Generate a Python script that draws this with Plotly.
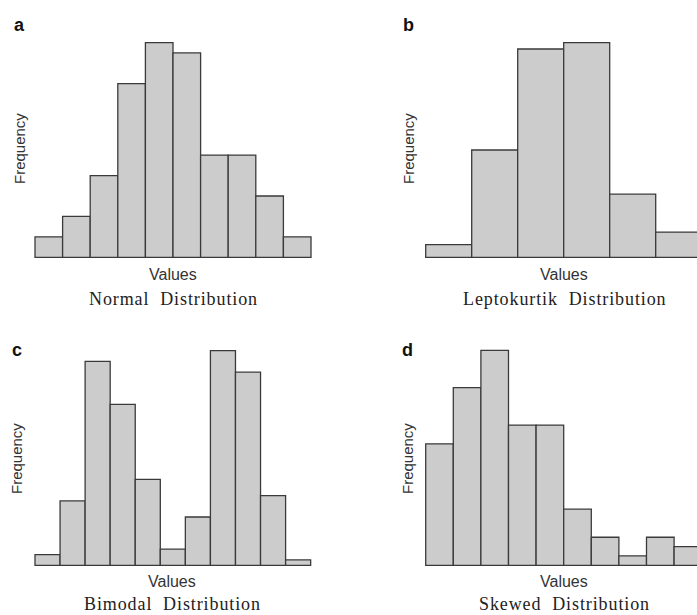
import plotly.graph_objects as go

# ---- data (bin counts) ----
normal_counts = [2, 4, 8, 17, 21, 20, 10, 10, 6, 2]
lepto_counts = [2, 17, 33, 34, 10, 4]
bimodal_counts = [2, 12, 38, 30, 16, 3, 9, 40, 36, 13, 1]
skewed_counts = [13, 19, 23, 15, 15, 6, 3, 1, 3, 2]

panel_letters = ["a", "b", "c", "d"]
panel_titles = ["Normal Distribution", "Leptokurtik Distribution",
                "Bimodal Distribution", "Skewed Distribution"]
x_label = "Values"
y_label = "Frequency"

W, H = 697, 615
FILL = "#cccccc"
EDGE = "#3a3a3a"

# layout geometry (pixels): left edge of first bar, bar width, baseline, top of tallest bar
geom = [
    dict(L=35.0, bw=27.6, base=257.3, top=42.7),
    dict(L=425.7, bw=46.0, base=257.3, top=42.7),
    dict(L=35.0, bw=25.06, base=565.3, top=350.7),
    dict(L=425.7, bw=27.6, base=565.3, top=350.3),
]
text_pos = [
    dict(cx=173, vy=274, ty=299, fx=19, fy=149, lx=19.5, ly=25),
    dict(cx=564, vy=274, ty=299, fx=408, fy=149, lx=408.5, ly=25),
    dict(cx=172, vy=581, ty=604, fx=16, fy=459, lx=17, ly=350),
    dict(cx=564, vy=581, ty=604, fx=407, fy=459, lx=407, ly=350),
]

series = [normal_counts, lepto_counts, bimodal_counts, skewed_counts]

fig = go.Figure()
layout_axes = {}
annotations = []
PAD = 9

def fx(p):
    return p / W

def fy(p):
    return 1 - p / H

for i, (counts, g, tp) in enumerate(zip(series, geom, text_pos)):
    n = len(counts)
    idx = "" if i == 0 else str(i + 1)
    xs = list(range(n))
    fig.add_trace(go.Bar(
        x=xs, y=counts, width=1.0,
        marker=dict(color=FILL, line=dict(color=EDGE, width=1.3)),
        xaxis="x" + idx, yaxis="y" + idx, showlegend=False,
        hoverinfo="skip",
    ))
    L, bw = g["L"], g["bw"]
    dl = L - PAD
    dr = min(L + n * bw + PAD, W)
    xr = [-0.5 - PAD / bw, -0.5 + (dr - L) / bw]
    M = max(counts)
    s = (g["base"] - g["top"]) / M
    db = g["base"] + PAD
    dt = g["top"] - PAD
    yr = [-PAD / s, M + PAD / s]
    layout_axes["xaxis" + idx] = dict(domain=[fx(dl), fx(dr)], range=xr, visible=False,
                                      anchor="y" + idx, fixedrange=True)
    layout_axes["yaxis" + idx] = dict(domain=[fy(db), fy(dt)], range=yr, visible=False,
                                      anchor="x" + idx, fixedrange=True)
    annotations.append(dict(x=fx(tp["cx"]), y=fy(tp["vy"]), xref="paper", yref="paper",
                            text=x_label, showarrow=False, xanchor="center", yanchor="middle",
                            font=dict(family="Liberation Sans, Arial", size=16, color="#333333")))
    annotations.append(dict(x=fx(tp["cx"]), y=fy(tp["ty"]), xref="paper", yref="paper",
                            text='<span style="letter-spacing:0.9px">' + panel_titles[i].replace(" ", "  ") + "</span>",
                            showarrow=False, xanchor="center", yanchor="middle",
                            font=dict(family="Liberation Serif, Times New Roman", size=18, color="#222222")))
    annotations.append(dict(x=fx(tp["fx"]), y=fy(tp["fy"]), xref="paper", yref="paper",
                            text=y_label, textangle=-90, showarrow=False,
                            xanchor="center", yanchor="middle",
                            font=dict(family="Liberation Sans, Arial", size=15, color="#333333")))
    annotations.append(dict(x=fx(tp["lx"]), y=fy(tp["ly"]), xref="paper", yref="paper",
                            text="<b>" + panel_letters[i] + "</b>", showarrow=False,
                            xanchor="center", yanchor="middle",
                            font=dict(family="Liberation Sans, Arial", size=18, color="#111111")))

fig.update_layout(
    width=W, height=H, autosize=False,
    margin=dict(l=0, r=0, t=0, b=0),
    paper_bgcolor="white", plot_bgcolor="white",
    bargap=0, annotations=annotations, hovermode=False,
    **layout_axes,
)

fig.write_html(
    "out.html",
    config={"displayModeBar": False, "staticPlot": True},
    post_script="document.body.style.margin='0';document.body.style.overflow='hidden';",
)
